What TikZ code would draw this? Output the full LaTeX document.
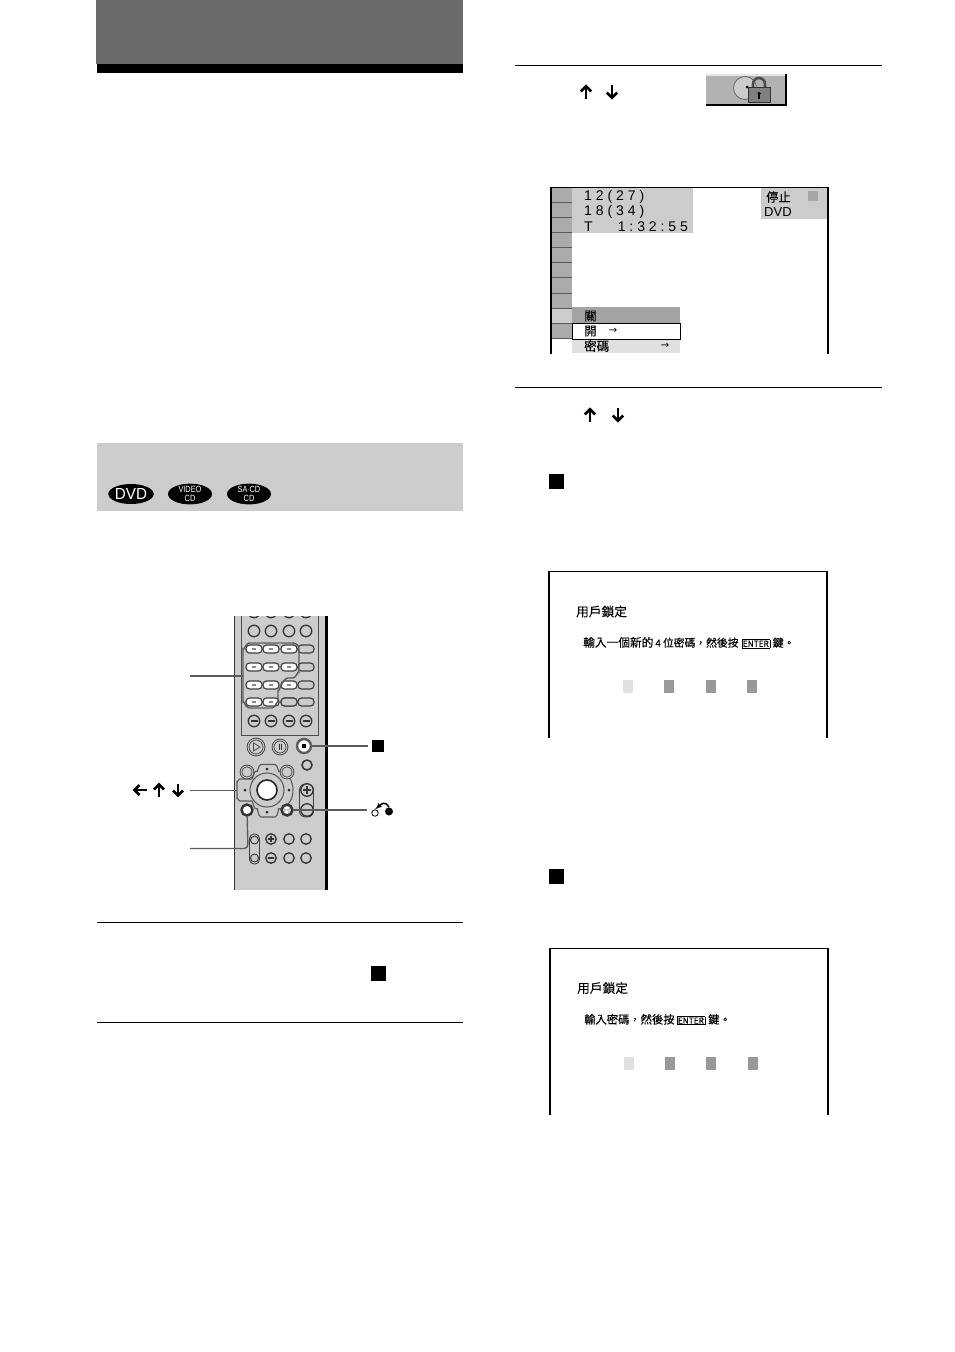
\documentclass[tikz,border=0pt]{standalone}
\usepackage{fontspec}
\setmainfont{Liberation Sans}
\newfontfamily\cjk[FakeBold=0.25]{Noto Sans CJK TC}
\newfontfamily\osdfont[LetterSpace=28]{Liberation Sans}
\newfontfamily\sym{DejaVu Sans}
\usetikzlibrary{arrows}
\usetikzlibrary{positioning}
\usetikzlibrary{shapes.geometric}
\definecolor{osdgray}{gray}{0.8}
\definecolor{keygray}{gray}{0.67}
\definecolor{leadgray}{gray}{0.36}
\tikzset{
    rulefull/.style={draw=black, line width=1pt},
    lead/.style={draw=leadgray, line width=1.4pt},
    knob/.style={circle, draw=black!80, fill=osdgray, line width=1.3pt, inner sep=0pt, minimum size=#1},
    ringknob/.style={circle, draw=black!80, fill=osdgray, line width=0.8pt, double=osdgray, double distance=1pt, inner sep=0pt, minimum size=#1},
    key/.style={rounded corners=3.5pt, draw=black!75, fill=white, line width=1.2pt, inner sep=0pt, minimum width=16pt, minimum height=8pt},
    disc/.style={ellipse, fill=black, text=white, inner sep=0pt, minimum width=44pt, minimum height=20pt, align=center},
    smalldisc/.style={disc, font=\fontsize{9}{8.3}\selectfont},
    stopmark/.style={fill=black, inner sep=0pt, minimum size=#1},
    cjktext/.style={font=\cjk\fontsize{#1}{#1}\selectfont, inner sep=0pt, anchor=west},
    osdtext/.style={font=\osdfont\fontsize{14}{14}\selectfont, inner sep=0pt, anchor=west},
    codecell/.style={fill=#1, inner sep=0pt, minimum width=10pt, minimum height=13pt},
    tinyarrow/.style={font=\sym\fontsize{10}{10}\selectfont, inner sep=0pt},
    dirarrow/.pic={
      \draw[black, line width=2.6pt, miter limit=10] (-5,-0.5) -- (0,-5.5) -- (5,-0.5);
      \draw[black, line width=2.8pt] (0,-5) -- (0,6.5);
    },
}
\newcommand{\enterkey}{\setlength{\fboxsep}{0.7pt}\setlength{\fboxrule}{0.6pt}\fbox{\fontsize{8.3}{8.3}\selectfont ENTER}}
\begin{document}
\begin{tikzpicture}[x=1pt, y=-1pt]
    \useasboundingbox (0,0) rectangle (954,1352);

    \fill[black!58] (96,0) rectangle (463,64);
    \fill[black] (97,64) rectangle (463,73);
    \fill[osdgray] (97,443) rectangle (463,511);
    \node[disc, font=\fontsize{16}{16}\selectfont] (dvdlogo) at (131,494) {\scalebox{.95}[1]{DVD}};
    \node[smalldisc] (vcdlogo) at (190,494) {\scalebox{.82}[1]{VIDEO}\\\scalebox{.82}[1]{CD}};
    \node[smalldisc] (sacdlogo) at (249,494) {\scalebox{.82}[1]{SA$\cdot$CD}\\\scalebox{.82}[1]{CD}};

    \draw[rulefull] (97,922.5) -- (463,922.5);
    \draw[rulefull] (97,1022.5) -- (463,1022.5);
    \draw[rulefull] (515,65) -- (882,65);
    \draw[rulefull] (515,387.5) -- (882,387.5);

    \begin{scope}
      \clip (233,616) rectangle (329,890);
      \fill[osdgray] (234,616) rectangle (326,890);
      \draw[black!80, line width=1.4pt] (234.5,616) -- (234.5,890);
      \draw[black, line width=3.2pt] (326.3,616) -- (326.3,890);
      \draw[black!70, line width=0.9pt] (241.5,616) -- (241.5,735) -- (318.5,735) -- (318.5,616);
      \foreach \x [count=\i] in {254, 271, 289, 306}{
        \node[knob=11.5pt] (topa\i) at (\x,612) {};
        \node[knob=11.5pt] (topb\i) at (\x,631) {};
        \node[knob=11.5pt] (skip\i) at (\x,721) {};
        \draw[black!80, line width=1.2pt] (\x-3.5,721) -- (\x+3.5,721);
      }
      \foreach \y [count=\j] in {649, 667, 685, 702}{
        \foreach \x [count=\i] in {254, 271, 289}{
          \node[key] (num\j\i) at (\x,\y) {};
          \draw[black!45, line width=1.2pt] (\x-2,\y) -- (\x+2,\y);
        }
        \node[key, fill=osdgray] (numend\j) at (306,\y) {};
      }
      \node[key, fill=osdgray] (numblank) at (289,702) {};
      \draw[lead] (249,643) -- (293,643) to[out=0, in=90] (299,649) -- (299,672)
        to[out=90, in=0] (293,678) -- (288,678) to[out=180, in=-90] (278,690) -- (278,702)
        to[out=90, in=0] (272,708) -- (249,708) to[out=180, in=90] (243,702) -- (243,649)
        to[out=-90, in=180] cycle;
      \node[ringknob=16pt] (playkey) at (256,747) {};
      \draw[black!70, line width=0.8pt] (253.5,743) -- (260,747) -- (253.5,751) -- cycle;
      \node[ringknob=14pt] (pausekey) at (280,747) {};
      \draw[black!80, line width=1pt] (279,744) -- (279,750) (281,744) -- (281,750);
      \node[circle, draw=leadgray, fill=white, line width=2.4pt, inner sep=0pt, minimum size=14pt] (stopkey) at (304,746) {};
      \node[stopmark=4.5pt] (stopdot) at (304,746) {};
      \node[knob=10pt, line width=1.5pt] (clearkey) at (307,765) {};
      \draw[leadgray, line width=1.1pt, fill=osdgray] (257,771) to[out=-80, in=180] (261,764.5) -- (275,764.5)
        to[out=0, in=-100] (279,771) to[out=-10, in=90] (293,790) to[out=-90, in=10] (279,809)
        to[out=100, in=0] (275,817) -- (261,817) to[out=180, in=80] (257,809)
        to[out=180, in=-60] (252,801) -- (240,801) to[out=180, in=90] (237,798) -- (237,782)
        to[out=-90, in=180] (240,779) -- (252,779) to[out=60, in=180] cycle;
      \node[circle, draw=leadgray, fill=osdgray, line width=1.1pt, inner sep=0pt, minimum size=34pt] (padring) at (267,790) {};
      \node[circle, draw=black!85, fill=white, line width=1.6pt, inner sep=0pt, minimum size=20pt] (entkey) at (267,790) {};
      \foreach \x/\y/\a in {267/769/up, 267/812/dn, 245/790/lf, 289/790/rt}{
        \node[circle, fill=black!85, inner sep=0pt, minimum size=3pt] (dot\a) at (\x,\y) {};
      }
      \node[ringknob=12pt] (topkeya) at (247,772) {};
      \node[ringknob=12pt] (topkeyb) at (287,772) {};
      \node[circle, draw=black!80, fill=white, line width=2.4pt, inner sep=0pt, minimum size=11pt] (homekey) at (247,810) {};
      \node[circle, draw=black!80, fill=osdgray, line width=2.4pt, inner sep=0pt, minimum size=11pt] (retkey) at (287,810) {};
      \draw[white, line width=1.2pt] (285,808) -- (289,808) (285,812) -- (288,812);
      \draw[black!75, line width=0.9pt, rounded corners=6pt] (299.5,784) rectangle (313.5,817);
      \node[knob=12.5pt] (volup) at (307,790) {};
      \node[knob=12.5pt] (voldn) at (307,810) {};
      \draw[black!80, line width=1.1pt] (303,790) -- (311,790) (307,786) -- (307,794);
      \draw[black!75, line width=0.9pt, rounded corners=4.5pt] (249.5,834) rectangle (259.5,864);
      \node[knob=8pt, line width=0.9pt] (chup) at (254.5,840) {};
      \node[knob=8pt, line width=0.9pt] (chdn) at (254.5,858) {};
      \foreach \x [count=\i] in {271, 289, 306}{
        \node[knob=10.5pt] (lowa\i) at (\x,839) {};
        \node[knob=10.5pt] (lowb\i) at (\x,858) {};
      }
      \draw[black!80, line width=1.1pt] (268,839) -- (274,839) (271,836) -- (271,842);
      \draw[black!80, line width=1.1pt] (268,858) -- (274,858);
    \end{scope}

    \coordinate (numlead) at (190,676);
    \coordinate (numgroup) at (243,676);
    \draw[lead] (numlead) -- (numgroup);
    \node[stopmark=12.5pt] (stopa) at (378,746) {};
    \draw[lead, shorten >=4pt] (stopkey) -- (stopa);
    \coordinate (padlead) at (190,790.5);
    \coordinate (padleft) at (237,790.5);
    \draw[lead] (padlead) -- (padleft);
    \pic[rotate=90] at (140,790) {dirarrow};
    \pic at (159,790) {dirarrow};
    \pic[rotate=180] at (178,790) {dirarrow};
    \node[circle, draw=black, fill=white, line width=0.8pt, inner sep=0pt, minimum size=6.5pt] (rethollow) at (375,813) {};
    \node[circle, fill=black, inner sep=0pt, minimum size=8pt] (retsolid) at (389,811.5) {};
    \draw[black, line width=1.5pt, -latex'] (retsolid.north) to[out=120, in=40, looseness=1.5] (rethollow.north);
    \coordinate (retend) at (367,810);
    \draw[lead] (retkey) -- (retend);
    \coordinate (homelead) at (190,848.5);
    \draw[lead, rounded corners=4pt] (homelead) -- (248,848.5) -- (homekey);
    \node[stopmark=15pt] (stopb) at (378.5,973.5) {};

    \pic[scale=1.05] at (586,92) {dirarrow};
    \pic[rotate=180, scale=1.05] at (612,92) {dirarrow};
    \pic[scale=1.05] at (590,415) {dirarrow};
    \pic[rotate=180, scale=1.05] at (618,415) {dirarrow};

    \fill[black!30] (706,74) rectangle (787,106);
    \fill[black!10] (706,74) rectangle (785,75.5);
    \draw[black, line width=1.6pt] (706,105.2) -- (786.2,105.2) -- (786.2,74);
    \fill[black!20] (745,88) circle (11.5);
    \draw[black!65, line width=0.7pt] (745,88) circle (11.5);
    \fill[black] (747,87) circle (1.5);
    \draw[black!70, line width=2.6pt] (753,90) -- (753,84) arc (180:360:6) -- (765,90);
    \node[fill=black!50, draw=black!80, line width=0.7pt, inner sep=0pt, minimum width=22pt, minimum height=15pt] (lockbody) at (759,95) {};
    \node[circle, fill=black, inner sep=0pt, minimum size=3.5pt] (lockhole) at (759,93.5) {};
    \draw[black, line width=1.3pt] (759,93.5) -- (759,98.5);

    \fill[osdgray] (572,187) rectangle (693,233);
    \fill[osdgray] (761,187) rectangle (827,219);
    \foreach \y [count=\i] in {187, 202, 217, 232, 247, 262, 277, 292, 323}{
      \fill[keygray] (552,\y) rectangle (572,\y+15.5);
    }
    \fill[osdgray] (552,308) rectangle (572,323);
    \foreach \y [count=\i] in {202, 217, 232, 247, 262, 277, 293, 308, 323, 338}{
      \draw[black!65, line width=0.5pt] (552,\y) -- (572,\y);
    }
    \draw[black, line width=1.3pt] (551,353.5) -- (551,187.5) -- (828,187.5) -- (828,353.5);
    \node[osdtext] (chaptera) at (584,196.5) {12(27)};
    \node[osdtext] (chapterb) at (584,211.5) {18(34)};
    \node[osdtext] (chapterc) at (584,227) {T\hspace{25pt}1:32:55};
    \node[cjktext=12.3] (stoptext) at (766,197) {停止};
    \node[fill=black!35, inner sep=0pt, minimum size=10pt] (stopicon) at (813,196) {};
    \node[font=\fontsize{13}{13}\selectfont, inner sep=0pt, anchor=west] (dvdtext) at (764,212) {DVD};
    \fill[black!36] (572,307) rectangle (680,323);
    \fill[black!12] (572,339) rectangle (680,353);
    \draw[black, line width=0.9pt, fill=white] (572,323.5) rectangle (680,339);
    \node[cjktext=12.5] (menuoff) at (584,316) {關};
    \node[cjktext=12.5] (menuon) at (584,331) {開};
    \node[cjktext=12.5] (menupass) at (584,346) {密碼};
    \node[tinyarrow] (menuona) at (613,331) {→};
    \node[tinyarrow] (menupassa) at (665,346) {→};

    \node[stopmark=15pt] (stepc) at (556.5,481) {};
    \draw[black, line width=1.5pt] (549,738) -- (549,571.5) -- (827,571.5) -- (827,738);
    \node[cjktext=12.7] (titlea) at (576,611.5) {用戶鎖定};
    \node[cjktext=11.7] (prompta) at (583,642.5) {輸入一個新的\hspace{2pt}{\fontsize{10}{10}\selectfont 4}\hspace{2pt}{\fontsize{10.8}{10.8}\selectfont 位密碼，然後按}\hspace{3pt}\enterkey\hspace{2.5pt}{\fontsize{11}{11}\selectfont 鍵。}};
    \node[codecell=black!12] (codea1) at (628,686.5) {};
    \foreach \x [count=\i from 2] in {669, 710.5, 752}{
      \node[codecell=black!40] (codea\i) at (\x,686.5) {};
    }

    \node[stopmark=15pt] (stepd) at (556.5,876) {};
    \draw[black, line width=1.5pt] (550,1115) -- (550,948.5) -- (828,948.5) -- (828,1115);
    \node[cjktext=12.7] (titleb) at (577,988) {用戶鎖定};
    \node[cjktext=11.3] (promptb) at (584,1019.5) {輸入密碼，然後按\hspace{2pt}\enterkey\hspace{3pt}鍵。};
    \node[codecell=black!12] (codeb1) at (628.5,1063.5) {};
    \foreach \x [count=\i from 2] in {670, 711, 752.5}{
      \node[codecell=black!40] (codeb\i) at (\x,1063.5) {};
    }
\end{tikzpicture}
\end{document}
